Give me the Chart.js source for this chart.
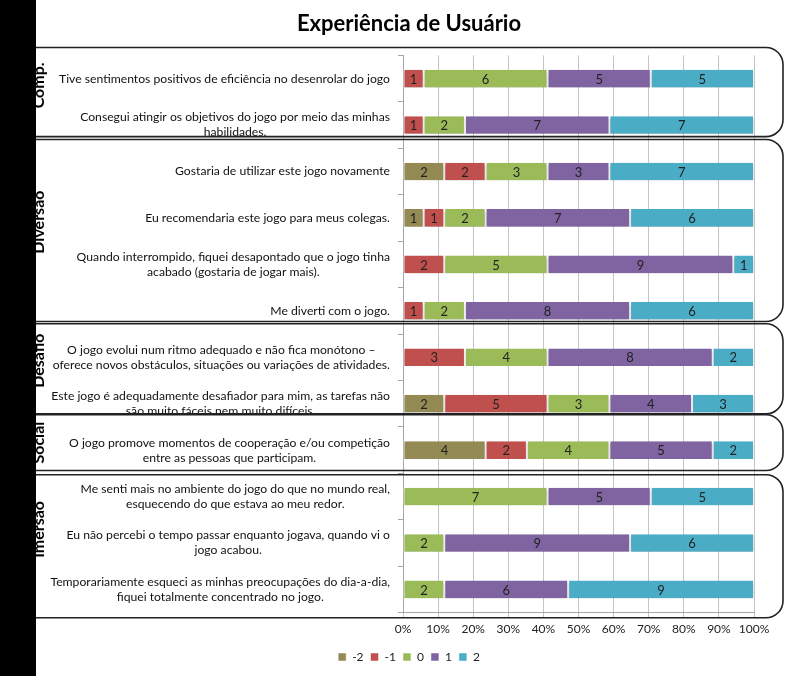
<!DOCTYPE html>
<html>
<head>
<meta charset="utf-8">
<script src="https://cdn.jsdelivr.net/npm/chart.js@4"></script>
<style>
  html, body { margin: 0; padding: 0; background: #fff; }
  #wrap { width: 786px; height: 676px; }
</style>
</head>
<body>
<div id="wrap"><canvas id="bar-chart"></canvas></div>
<script>
const questions = [
  ["Tive sentimentos positivos de eficiência no desenrolar do jogo"],
  ["Consegui atingir os objetivos do jogo por meio das minhas", "habilidades."],
  ["Gostaria de utilizar este jogo novamente"],
  ["Eu recomendaria este jogo para meus colegas."],
  ["Quando interrompido, fiquei desapontado que o jogo tinha", "acabado (gostaria de jogar mais)."],
  ["Me diverti com o jogo."],
  ["O jogo evolui num ritmo adequado e não fica monótono –", "oferece novos obstáculos, situações ou variações de atividades."],
  ["Este jogo é adequadamente desafiador para mim, as tarefas não", "são muito fáceis nem muito difíceis."],
  ["O jogo promove momentos de cooperação e/ou competição", "entre as pessoas que participam."],
  ["Me senti mais no ambiente do jogo do que no mundo real,", "esquecendo do que estava ao meu redor."],
  ["Eu não percebi o tempo passar enquanto jogava, quando vi o", "jogo acabou."],
  ["Temporariamente esqueci as minhas preocupações do dia-a-dia,", "fiquei totalmente concentrado no jogo."]
];

const minus2 = [0, 0, 2, 1, 0, 0, 0, 2, 4, 0, 0, 0];
const minus1 = [1, 1, 2, 1, 2, 1, 3, 5, 2, 0, 0, 0];
const zero   = [6, 2, 3, 2, 5, 2, 4, 3, 4, 7, 2, 2];
const plus1  = [5, 7, 3, 7, 9, 8, 8, 4, 5, 5, 9, 6];
const plus2  = [5, 7, 7, 6, 1, 6, 2, 3, 2, 5, 6, 9];

const seriesNames = ["-2", "-1", "0", "1", "2"];
const xTicks = [0, 10, 20, 30, 40, 50, 60, 70, 80, 90, 100];

// groups of questions (spans in category units, for the brackets on the side)
const groups = [
  { name: "Comp.",    top: -0.67, bottom: 1.25,  anchor: 0.64 },
  { name: "Diversão", top: 1.31,  bottom: 5.23,  anchor: 3.77 },
  { name: "Desafio",  top: 5.28,  bottom: 7.22,  anchor: 6.66 },
  { name: "Social",   top: 7.24,  bottom: 8.44,  anchor: 8.29 },
  { name: "Imersão",  top: 8.53,  bottom: 11.61, anchor: 10.32 }
];

const counts = [minus2, minus1, zero, plus1, plus2];
const colors = ["#948A54", "#C0504D", "#9BBB59", "#8064A2", "#4BACC6"];
const totals = questions.map((q, i) => counts.reduce((s, arr) => s + arr[i], 0));

const FONT = "Lato, 'Open Sans', sans-serif";

const datasets = counts.map((arr, k) => ({
  label: seriesNames[k],
  data: arr.map((v, i) => v / totals[i] * 100),
  raw: arr,
  backgroundColor: colors[k],
  borderColor: "#ffffff",
  borderWidth: { left: 1, right: 1, top: 0, bottom: 0 },
  borderSkipped: false,
  categoryPercentage: 1,
  barPercentage: 0.38
}));

const barExtras = {
  id: "barExtras",
  beforeDatasetsDraw(chart) {
    const ctx = chart.ctx;
    ctx.save();
    ctx.shadowColor = "rgba(0,0,0,0.28)";
    ctx.shadowBlur = 3;
    ctx.shadowOffsetY = 2;
  },
  afterDatasetsDraw(chart) {
    const ctx = chart.ctx;
    ctx.restore();
    ctx.save();
    ctx.font = "13px " + FONT;
    ctx.fillStyle = "#222";
    ctx.textAlign = "center";
    ctx.textBaseline = "middle";
    chart.data.datasets.forEach((ds, k) => {
      const meta = chart.getDatasetMeta(k);
      meta.data.forEach((el, i) => {
        if (!ds.raw[i]) return;
        ctx.fillText(String(ds.raw[i]), (el.x + el.base) / 2, el.y + 1);
      });
    });
    ctx.restore();
  }
};

const sideDecor = {
  id: "sideDecor",
  afterDraw(chart) {
    const ctx = chart.ctx;
    const y = chart.scales.y;
    const area = chart.chartArea;
    ctx.save();

    // question labels: block right aligned, lines centred
    ctx.font = "12.2px " + FONT;
    ctx.fillStyle = "#111";
    ctx.textAlign = "center";
    ctx.textBaseline = "middle";
    const right = area.left - 13;
    questions.forEach((lines, i) => {
      const w = Math.max(...lines.map(l => ctx.measureText(l).width));
      const cx = right - w / 2;
      const py = y.getPixelForValue(i);
      const lh = 15;
      lines.forEach((l, j) => {
        ctx.fillText(l, cx, py - (lines.length - 1) * lh / 2 + j * lh);
      });
    });

    // group frames
    const xr = 783, r = 17, xl = 36;
    ctx.strokeStyle = "#222";
    ctx.lineWidth = 1.6;
    groups.forEach(g => {
      const yt = y.getPixelForValue(g.top);
      const yb = y.getPixelForValue(g.bottom);
      ctx.beginPath();
      ctx.moveTo(xl, yt);
      ctx.lineTo(xr - r, yt);
      ctx.arcTo(xr, yt, xr, yt + r, r);
      ctx.lineTo(xr, yb - r);
      ctx.arcTo(xr, yb, xr - r, yb, r);
      ctx.lineTo(xl, yb);
      ctx.stroke();

      ctx.save();
      ctx.beginPath();
      ctx.rect(0, yt, 120, yb - yt);
      ctx.clip();
      ctx.translate(44, y.getPixelForValue(g.anchor));
      ctx.rotate(-Math.PI / 2);
      ctx.font = "bold 16px " + FONT;
      ctx.fillStyle = "#000";
      ctx.textAlign = "left";
      ctx.textBaseline = "alphabetic";
      ctx.fillText(g.name, 0, 0);
      ctx.restore();
    });

    // black strip on the left edge
    ctx.fillStyle = "#000";
    ctx.fillRect(0, 0, xl, chart.height);
    ctx.restore();
  }
};

new Chart(document.getElementById("bar-chart"), {
  type: "bar",
  data: {
    labels: questions,
    datasets: datasets
  },
  options: {
    indexAxis: "y",
    responsive: true,
    maintainAspectRatio: false,
    animation: false,
    layout: { padding: { left: 64, right: 32, top: 0, bottom: 3 } },
    scales: {
      x: {
        stacked: true,
        min: 0,
        max: 100,
        afterBuildTicks: s => { s.ticks = xTicks.map(v => ({ value: v })); },
        afterFit: s => { s.height += 4; },
        ticks: {
          callback: v => v + "%",
          padding: 4,
          maxRotation: 0,
          minRotation: 0,
          autoSkip: false,
          color: "#222",
          font: { family: FONT, size: 12 }
        },
        grid: { color: "#C4C4C4", tickLength: 5, lineWidth: 1 },
        border: { color: "#A6A6A6" }
      },
      y: {
        stacked: true,
        afterFit: s => { s.width = 339; },
        ticks: { display: false },
        grid: { drawOnChartArea: false, tickLength: 5, color: "#A6A6A6" },
        border: { color: "#A6A6A6" }
      }
    },
    plugins: {
      title: {
        display: true,
        text: "Experiência de Usuário",
        color: "#000",
        font: { family: FONT, size: 22, weight: "bold" },
        padding: { top: 11, bottom: 18 }
      },
      legend: {
        position: "bottom",
        labels: {
          boxWidth: 8,
          boxHeight: 8,
          padding: 7,
          color: "#222",
          font: { family: FONT, size: 12 }
        }
      },
      tooltip: { enabled: false }
    }
  },
  plugins: [barExtras, sideDecor]
});
</script>
</body>
</html>
